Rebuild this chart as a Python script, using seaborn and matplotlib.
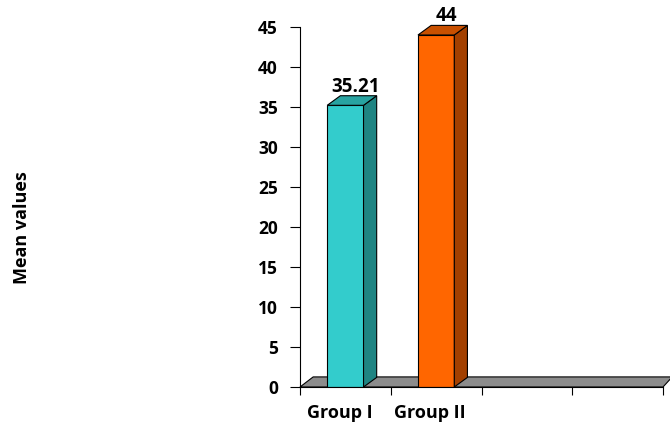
import matplotlib
matplotlib.use("Agg")
import matplotlib.pyplot as plt
from matplotlib.patches import Polygon
import seaborn as sns
import pandas as pd

# chart data
categories = ["Group I", "Group II"]
mean_values = [35.21, 44]
slots = ["Group I", "Group II", " ", "  "]
face_colors = ["#33CCCC", "#FF6600"]
side_colors = ["#1F8482", "#A34000"]
top_colors = ["#28A3A1", "#C85000"]
y_ticks = [0, 5, 10, 15, 20, 25, 30, 35, 40, 45]

sns.set_theme(style="white")
plt.rcParams["font.family"] = ["Open Sans", "DejaVu Sans"]
plt.rcParams["font.weight"] = "bold"
plt.rcParams["text.color"] = "black"
plt.rcParams["xtick.color"] = "black"
plt.rcParams["ytick.color"] = "black"
plt.rcParams["axes.labelcolor"] = "black"

df = pd.DataFrame({"group": categories, "mean": mean_values})

fig = plt.figure(figsize=(6.7, 4.25), dpi=100)
ax = fig.add_axes([300 / 670, 38 / 425, 363 / 670, 360 / 425])

sns.barplot(data=df, x="group", y="mean", order=slots, hue="group",
            palette=dict(zip(categories, face_colors)), legend=False,
            saturation=1, width=0.4, edgecolor="black", linewidth=0.8,
            ax=ax, zorder=3)

ax.set_xlim(-0.5, 3.5)
ax.set_ylim(0, 45)

# depth of the 3D extrusion, in data units
dx, dy = 0.145, 1.2

# grey floor slab
floor = Polygon([(-0.5, 0), (3.5, 0), (3.5 + dx * 0.7, dy * 1.05),
                 (-0.5 + dx, dy * 1.05)],
                closed=True, facecolor="#8C8C8C", edgecolor="black",
                linewidth=0.8, zorder=2, clip_on=False)
ax.add_patch(floor)

bars = [p for p in ax.patches if p is not floor and p.get_height() > 0]
bars.sort(key=lambda p: p.get_x())
for bar, val, sc, tc in zip(bars, mean_values, side_colors, top_colors):
    x0 = bar.get_x()
    x1 = x0 + bar.get_width()
    h = bar.get_height()
    side = Polygon([(x1, 0), (x1 + dx, dy), (x1 + dx, h + dy), (x1, h)],
                   closed=True, facecolor=sc, edgecolor="black",
                   linewidth=0.8, zorder=3, clip_on=False)
    top = Polygon([(x0, h), (x1, h), (x1 + dx, h + dy), (x0 + dx, h + dy)],
                  closed=True, facecolor=tc, edgecolor="black",
                  linewidth=0.8, zorder=3, clip_on=False)
    ax.add_patch(side)
    ax.add_patch(top)
    label = f"{val:g}"
    ax.text((x0 + x1) / 2 + dx * 0.8, h + dy * 0.9, label, ha="center",
            va="bottom", fontsize=13.5, fontweight="bold", color="black",
            clip_on=False)

ax.set_yticks(y_ticks)
ax.set_xticks([-0.06, 0.93])
ax.set_xticklabels(categories, fontsize=13, fontweight="bold")
ax.set_xticks([-0.5, 0.5, 1.5, 2.5, 3.5], minor=True)
ax.tick_params(axis="x", which="major", length=0, pad=12.5)
ax.tick_params(axis="x", which="minor", length=6, width=0.8, color="black",
               direction="out", bottom=True)
ax.tick_params(axis="y", length=7, width=0.8, color="black", direction="out",
               left=True, pad=9, labelsize=12.5)
for lbl in ax.get_yticklabels():
    lbl.set_fontweight("bold")

ax.set_xlabel("")
ax.set_ylabel("")
fig.text(22 / 670, 1 - 228 / 425, "Mean values", rotation=90, ha="center",
         va="center", fontsize=13, fontweight="bold")

for s in ["top", "right"]:
    ax.spines[s].set_visible(False)
for s in ["left", "bottom"]:
    ax.spines[s].set_color("black")
    ax.spines[s].set_linewidth(0.8)
    ax.spines[s].set_zorder(4)

fig.savefig("out.png", dpi=100)
